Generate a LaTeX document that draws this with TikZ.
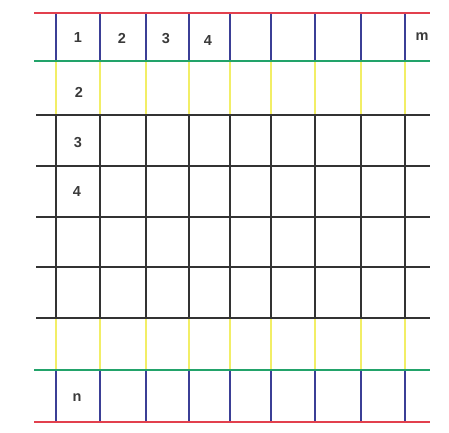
\documentclass[tikz,border=0pt]{standalone}
\usepackage{fontspec}
\setmainfont{Liberation Sans}
\usepackage{tikz}
\definecolor{gridred}{HTML}{E2404E}
\definecolor{gridgreen}{HTML}{22A36A}
\definecolor{gridblue}{HTML}{3B3F96}
\definecolor{gridyellow}{HTML}{F2EE66}
\definecolor{gridblack}{HTML}{333333}
\definecolor{labelgray}{HTML}{3A3A3A}

\begin{document}
\begin{tikzpicture}[
  x=1pt, y=-1pt,
  rowline/.style={line width=1.4pt},
  colline/.style={line width=1.4pt},
  cell/.style={font=\fontsize{14.5}{16}\selectfont\bfseries, text=labelgray, inner sep=1pt}
]
  \useasboundingbox (0,0) rectangle (449,432);

  % vertical lines, band by band
  \foreach \x in {56,100,146,189,230,271,315,361,405} {
    \draw[colline, gridblue] (\x,13) -- (\x,61);
    \draw[colline, gridyellow] (\x,61) -- (\x,115);
    \draw[colline, gridblack] (\x,115) -- (\x,318);
    \draw[colline, gridyellow] (\x,318) -- (\x,370);
    \draw[colline, gridblue] (\x,370) -- (\x,422);
  }

  % horizontal lines
  \draw[rowline, gridred] (34,13) -- (430,13);
  \draw[rowline, gridgreen] (34,61) -- (430,61);
  \foreach \y in {115,166,217,267,318}
    \draw[rowline, gridblack] (36,\y) -- (430,\y);
  \draw[rowline, gridgreen] (34,370) -- (430,370);
  \draw[rowline, gridred] (34,422) -- (430,422);

  % labels
  \node[cell] (c1) at (78,38) {1};
  \node[cell] (c2) at (122,38) {2};
  \node[cell] (c3) at (166,39) {3};
  \node[cell] (c4) at (208,41) {4};
  \node[cell] (cm) at (422,37) {m};
  \node[cell] (r2) at (79,92) {2};
  \node[cell] (r3) at (78,143) {3};
  \node[cell] (r4) at (77,192) {4};
  \node[cell] (rn) at (77,398) {n};
\end{tikzpicture}
\end{document}
